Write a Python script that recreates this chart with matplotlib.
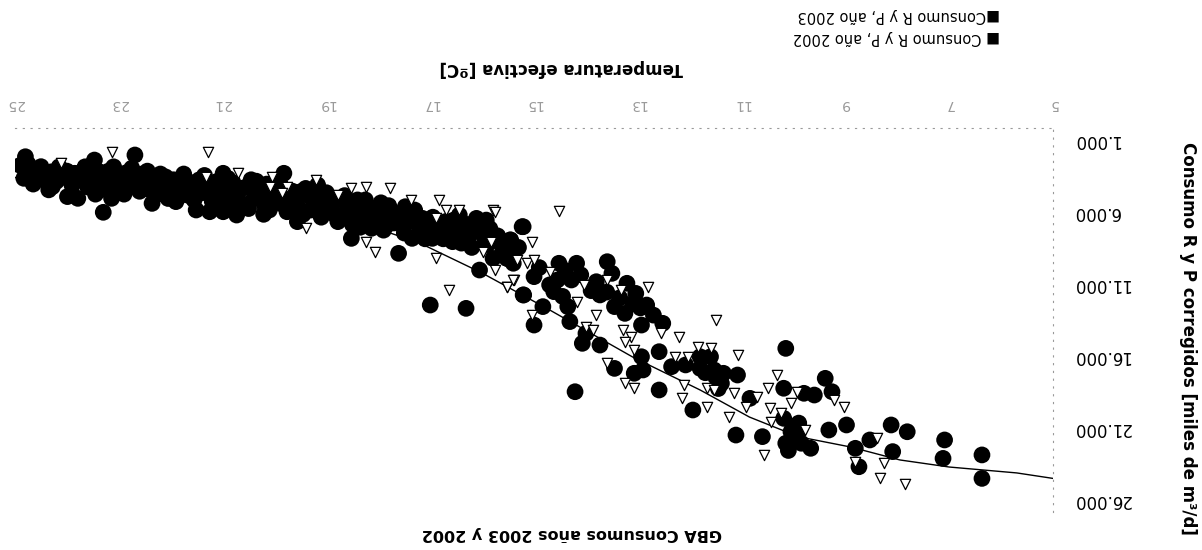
import matplotlib
matplotlib.use('Agg')
import matplotlib.pyplot as plt
from matplotlib.ticker import FuncFormatter

# Consumo R y P 2003 (circulos negros): temperatura efectiva [C], consumo [miles m3/d]
temp_2003 = [24.8, 24.5, 24.83, 24.57, 24.28, 23.99, 23.79, 23.47, 22.69, 23.3, 23.14, 23.86,
             22.36, 21.9, 21.51, 21.25, 20.99, 20.73, 20.21, 20.99, 19.82, 19.76, 19.56, 19.5,
             19.17, 19.3, 19.04, 18.78, 18.52, 18.46, 18.13, 18.06, 17.87, 17.61, 17.48, 17.35,
             17.15, 16.96, 16.83, 16.57, 16.44, 16.24, 16.11, 15.92, 16.05, 15.79, 15.52, 15.46,
             15.23, 15.2, 17.0, 16.31,
             24.7, 24.6, 24.4, 24.3, 24.2, 24.1, 24.0, 23.9, 23.85, 23.75, 23.7, 23.6,
             23.55, 23.5, 23.4, 23.35, 23.3, 23.2, 23.15, 23.05, 23.0, 22.95, 22.85, 22.8,
             22.7, 22.6, 22.55, 22.5, 22.4, 22.3, 22.25, 22.15, 22.1, 22.0, 21.95, 21.85,
             21.8, 21.7, 21.6, 21.55, 21.45, 21.4, 21.3, 21.2, 21.1, 21.05, 20.95, 20.85,
             20.8, 20.7, 20.6, 20.55, 20.45, 20.4, 20.3, 20.2, 20.15, 20.05, 19.95, 19.9,
             19.8, 19.7, 19.6, 19.45, 19.35, 19.25, 19.1, 19.0, 18.9, 18.8, 18.7, 18.6,
             18.5, 18.4, 18.3, 18.2, 18.1, 18.0, 17.9, 17.8, 17.7, 17.6, 17.5, 17.4,
             17.3, 17.2, 17.1, 17.05, 16.9, 16.75, 16.7, 16.6, 16.5, 16.4, 16.3, 16.2,
             16.0, 15.9, 15.7, 15.6, 15.4, 15.3,
             24.9, 24.75, 24.65, 24.35, 24.15, 23.95, 23.65, 23.45, 23.25, 23.1, 22.9, 22.75,
             22.65, 22.45, 22.2, 22.05, 21.9, 21.75, 21.65, 21.5, 21.35, 21.15, 21.0, 20.9,
             20.75, 20.65, 20.5, 20.35, 20.25, 20.1, 19.85, 19.65, 19.55, 19.4, 19.2, 19.05,
             18.95, 18.85, 18.65, 18.55, 18.35, 18.25, 18.15, 17.95, 17.85, 17.75, 17.55, 17.45,
             17.25, 16.95, 16.85, 16.65, 16.55, 16.35, 16.15, 15.95, 15.85, 15.65, 15.5,
             15.21, 15.45, 15.52, 15.0, 15.21, 14.52, 14.18, 13.59, 14.55, 14.28, 14.62, 14.83,
             15.0, 14.35, 14.31, 13.8, 13.73, 13.21, 13.04, 13.45, 13.25, 12.83, 12.93, 12.52,
             14.07, 13.73, 14.0, 12.93, 13.07, 12.9, 13.45, 14.21, 12.59, 12.59, 12.35, 12.08,
             11.8, 11.53, 11.8, 11.6, 11.35, 11.39, 11.08, 11.94, 10.84, 11.11, 10.6, 10.15,
             10.19, 9.8, 9.6, 9.39, 9.26, 10.19, 10.01, 9.94, 10.15, 9.67, 9.32, 8.98,
             8.81, 8.74, 8.53, 8.12, 8.09, 7.81, 7.09, 7.12, 6.37, 6.37,
             14.9, 14.7, 14.4, 14.1, 13.9, 13.6, 13.5, 13.35, 13.1, 12.95, 12.7, 14.45,
             11.7, 11.5, 11.45, 10.05, 9.85, 10.1, 9.9]
cons_2003 = [2300, 2990, 3800, 3920, 4380, 5070, 5190, 2530, 2180, 6160, 5190, 3570,
             5540, 5420, 6000, 6120, 6120, 6350, 6300, 3450, 3450, 6120, 6810, 4730,
             4260, 6000, 5420, 6810, 7970, 6120, 7270, 5880, 6580, 9010, 5770, 7970,
             6580, 7970, 7510, 8200, 6350, 7740, 6580, 6700, 10170, 9360, 9360, 8080,
             7160, 11900, 12600, 12830,
             3400, 3300, 3600, 3350, 4000, 3500, 3300, 4300, 3450, 3800, 3300, 4400,
             3500, 4000, 3300, 4600, 3700, 3300, 4200, 3500, 4600, 3900, 3400, 4400,
             3600, 4700, 3500, 4100, 4600, 3800, 4200, 4900, 3700, 4400, 3900, 5100,
             3800, 4600, 4100, 5300, 3900, 4800, 4300, 5400, 4000, 4900, 4500, 5500,
             4100, 4800, 5600, 4400, 3900, 5200, 4600, 5600, 4200, 5000, 5300, 4100,
             4600, 5600, 5100, 6300, 5000, 5600, 6500, 4800, 5900, 5300, 6400, 5600,
             7000, 5300, 6300, 5800, 6800, 6200, 7400, 5700, 6900, 6300, 7600, 6800,
             6000, 7300, 8000, 6900, 7200, 8000, 6800, 7600, 7100, 8300, 7000, 8600,
             7600, 8400, 7800, 8800, 9700, 8600,
             2900, 2800, 4200, 4600, 3000, 3900, 3000, 4900, 4300, 3000, 4900, 3100,
             4100, 3300, 3500, 5200, 4500, 3500, 5000, 4400, 3600, 4600, 5800, 3800,
             5200, 4500, 5900, 4000, 5000, 6000, 5600, 4700, 5800, 4500, 5200, 6200,
             5200, 6300, 5000, 6100, 7200, 5300, 6300, 5500, 7100, 6100, 7000, 6300,
             6700, 6500, 7000, 7300, 6700, 7400, 7100, 8000, 7300, 8300, 9000,
             7160, 8080, 9360, 10630, 11900, 9700, 9700, 9590, 10860, 10860, 11670, 12710,
             13990, 12710, 13750, 10980, 11900, 11090, 11790, 12710, 13180, 12600, 13990, 13870,
             15260, 15380, 14570, 16190, 17340, 17110, 17000, 18620, 18500, 15840, 16880, 16760,
             17000, 17110, 16190, 16190, 17340, 18040, 17460, 19890, 19080, 21630, 21740, 15610,
             18380, 18730, 18850, 17690, 18620, 20470, 21050, 21630, 22200, 22550, 21280, 20930,
             22550, 23830, 21970, 20930, 22780, 21400, 21970, 23250, 23010, 24640,
             10000, 11200, 10200, 10500, 11600, 11700, 10400, 12100, 12500, 12800, 13300, 12000,
             17300, 17600, 18400, 21400, 22200, 22700, 20800]

# Consumo R y P 2002 (triangulos blancos)
temp_2002 = [23.14, 21.29, 24.12, 21.32, 20.7, 20.05, 20.08, 19.76, 19.86, 19.2, 18.52, 18.23,
             17.77, 18.78, 19.4, 18.06, 18.23, 17.38, 16.83, 16.7, 16.44, 15.79, 16.89, 16.89,
             15.82, 15.98, 15.75, 16.63, 15.39, 15.52, 15.13,
             15.04, 15.0, 15.52, 15.41, 14.69, 14.04, 13.59, 14.18, 15.04, 13.8, 13.32, 12.8,
             14.0, 13.86, 13.28, 13.14, 13.25, 13.07, 12.56, 12.21, 11.49, 11.84, 11.6, 11.08,
             13.59, 12.28, 12.04, 12.11, 13.25, 13.07, 12.15, 11.66, 11.66, 11.53, 11.15, 10.91,
             10.7, 11.25, 10.49, 10.32, 10.46, 10.25, 10.43, 10.05, 9.94, 9.77, 9.22, 9.02,
             10.56, 8.81, 8.4, 8.26, 8.33, 7.85,
             14.52, 15.75, 15.33]
cons_2002 = [1950, 1950, 2760, 3690, 3450, 3690, 4380, 4380, 4840, 3920, 4500, 4380,
             4500, 4960, 7270, 8890, 8200, 5310, 5310, 6000, 6000, 6000, 6580, 9360,
             8200, 8890, 10170, 11560, 10860, 11330, 9700,
             8200, 9470, 11320, 10860, 10280, 11210, 10860, 12370, 13290, 13290, 11560, 11320,
             14100, 14330, 14330, 14800, 15140, 15720, 14560, 14800, 13640, 15490, 15610, 16070,
             16650, 16190, 16190, 18150, 18040, 18380, 19080, 18380, 19660, 18500, 18730, 19660,
             18960, 20350, 18380, 17460, 19770, 20120, 20700, 19430, 18620, 21280, 19190, 19660,
             23010, 23480, 21860, 23590, 24640, 25000,
             6070, 6150, 9470]

# curva de ajuste
trend_t = [4.8, 5.7, 7.0, 7.95, 8.9, 9.9, 10.85, 11.8, 13.1, 14.7, 16.0, 17.2,
           18.3, 19.4, 20.0, 21.0, 22.0, 23.0, 24.0, 25.0]
trend_v = [24750, 24260, 23850, 23360, 22460, 21750, 20380, 18500, 16210, 12940, 10380, 8300,
           6950, 5900, 5500, 5050, 4650, 4300, 4000, 3750]

x_ticks = [5, 7, 9, 11, 13, 15, 17, 19, 21, 23, 25]
y_ticks = [1000, 6000, 11000, 16000, 21000, 26000]

plt.rcParams['font.family'] = ['DejaVu Sans']

fig = plt.figure(figsize=(12.02, 5.5), dpi=100)
# the scanned page is upside down: everything is drawn rotated by 180 degrees
ax = fig.add_axes([0.0125, 0.0684, 0.8636, 0.699])

ax.plot(trend_t, trend_v, color='black', linewidth=1.0, zorder=2)
ax.scatter(temp_2003, cons_2003, s=145, color='black', edgecolors='none', zorder=3)
ax.scatter(temp_2002, cons_2002, s=55, marker='v', facecolors='white',
           edgecolors='black', linewidths=0.9, zorder=4)

ax.set_xlim(25, 5)
ax.set_ylim(27000, 300)

ax.xaxis.tick_top()
ax.yaxis.tick_right()
ax.set_xticks(x_ticks)
ax.set_yticks(y_ticks)
ax.yaxis.set_major_formatter(FuncFormatter(lambda v, p: f'{v:,.0f}'.replace(',', '.')))
ax.tick_params(axis='x', labelrotation=180, length=0, pad=12, labelsize=10, labelcolor='#9a9a9a')
ax.tick_params(axis='y', labelrotation=180, length=0, pad=14, labelsize=12, labelcolor='black')

for side in ['left', 'bottom']:
    ax.spines[side].set_visible(False)
for side in ['top', 'right']:
    ax.spines[side].set_linestyle((0, (1, 6)))
    ax.spines[side].set_color('#999999')
    ax.spines[side].set_linewidth(0.8)

fig.text(561 / 1202, 1 - 68 / 550, 'Temperatura efectiva [ºC]', rotation=180,
         ha='center', va='center', fontsize=12, fontweight='bold')
fig.text(572 / 1202, 1 - 533 / 550, 'GBA Consumos años 2003 y 2002', rotation=180,
         ha='center', va='center', fontsize=11.5, fontweight='bold')
fig.text(1188 / 1202, 1 - 338 / 550, 'Consumo R y P corregidos [miles de m³/d]', rotation=-90,
         ha='center', va='center', fontsize=12, fontweight='bold')
fig.text(1000 / 1202, 1 - 15 / 550, '■Consumo R y P, año 2003', rotation=180,
         ha='right', va='center', fontsize=10.5)
fig.text(1000 / 1202, 1 - 38 / 550, '■ Consumo R y P, año 2002', rotation=180,
         ha='right', va='center', fontsize=10.5)

plt.savefig('out.png', dpi=100)
